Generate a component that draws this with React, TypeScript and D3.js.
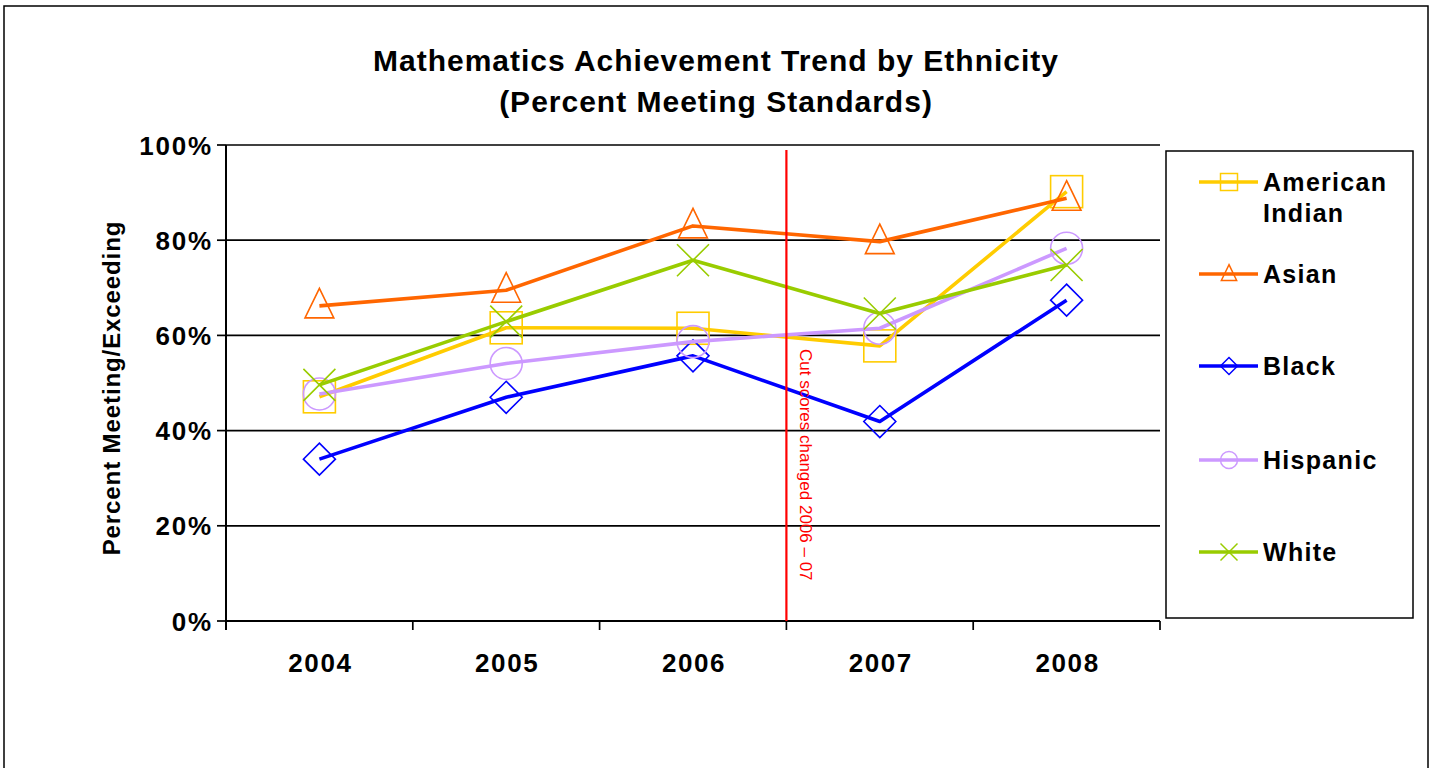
import React from "react";
import * as d3 from "d3";

const years = ["2004", "2005", "2006", "2007", "2008"];
const americanIndian = [47.1, 61.6, 61.5, 57.8, 90.2];
const asian = [66.2, 69.5, 83.0, 79.7, 88.8];
const black = [34.0, 47.0, 55.7, 41.9, 67.4];
const hispanic = [47.7, 54.1, 58.7, 61.5, 78.3];
const white = [49.6, 62.9, 75.8, 64.6, 74.8];
const yTicks = [0, 20, 40, 60, 80, 100];

const seriesNames = ["American Indian", "Asian", "Black", "Hispanic", "White"];
const seriesColors = ["#FFCC00", "#FF6600", "#0000FF", "#CC99FF", "#99CC00"];
const seriesMarkers = ["square", "triangle", "diamond", "circle", "x"];
const seriesValues = [americanIndian, asian, black, hispanic, white];

const FONT = "'Liberation Sans', Arial, sans-serif";

function Marker({ kind, cx, cy, s, color, sw }: { kind: string; cx: number; cy: number; s: number; color: string; sw: number }) {
  const h = s / 2;
  if (kind === "square")
    return <rect x={cx - h} y={cy - h} width={s} height={s} fill="none" stroke={color} strokeWidth={sw} />;
  if (kind === "triangle")
    return <path d={`M${cx},${cy - h * 1.1}L${cx + h * 0.9},${cy + h * 0.75}L${cx - h * 0.9},${cy + h * 0.75}Z`} fill="none" stroke={color} strokeWidth={sw} />;
  if (kind === "diamond")
    return <path d={`M${cx},${cy - h}L${cx + h},${cy}L${cx},${cy + h}L${cx - h},${cy}Z`} fill="none" stroke={color} strokeWidth={sw} />;
  if (kind === "circle")
    return <circle cx={cx} cy={cy} r={h} fill="none" stroke={color} strokeWidth={sw} />;
  return <path d={`M${cx - h},${cy - h}L${cx + h},${cy + h}M${cx + h},${cy - h}L${cx - h},${cy + h}`} fill="none" stroke={color} strokeWidth={sw} />;
}

export default function App() {
  const left = 226, right = 1160, top = 145, bottom = 621;
  const x = d3.scaleBand<string>().domain(years).range([left, right]);
  const y = d3.scaleLinear().domain([0, 100]).range([bottom, top]);
  const cx = (yr: string) => (x(yr) as number) + x.bandwidth() / 2;
  const line = d3.line<number>().x((_, i) => cx(years[i])).y((v) => y(v));
  const boundaries = years.map((yr) => x(yr) as number).concat([right]);
  const cutX = boundaries[3];

  const legendRows = [182, 274, 366, 460, 552];

  return (
    <svg width={1437} height={768} style={{ position: "absolute", left: 0, top: 0, background: "#fff" }} fontFamily={FONT}>
      <rect x={0} y={0} width={1437} height={768} fill="#fff" />
      {/* outer border */}
      <path d="M4,775V6H1428V775" fill="none" stroke="#000" strokeWidth={1.5} />
      {/* title */}
      <text x={716} y={71} textAnchor="middle" fontSize={30} fontWeight="bold" letterSpacing={1}>Mathematics Achievement Trend by Ethnicity</text>
      <text x={716} y={112} textAnchor="middle" fontSize={30} fontWeight="bold" letterSpacing={1}>(Percent Meeting Standards)</text>

      {/* gridlines */}
      {yTicks.map((t) => (
        <line key={t} x1={left} x2={right} y1={y(t)} y2={y(t)} stroke="#000" strokeWidth={1.7} />
      ))}
      {/* y axis */}
      <line x1={left} x2={left} y1={top} y2={bottom + 9} stroke="#000" strokeWidth={2} />
      {yTicks.map((t) => (
        <g key={"yt" + t}>
          <line x1={left - 9} x2={left} y1={y(t)} y2={y(t)} stroke="#000" strokeWidth={1.7} />
          <text x={213} y={y(t) + 9.5} textAnchor="end" fontSize={26} fontWeight="bold" letterSpacing={1.8}>{t}%</text>
        </g>
      ))}
      {/* x axis */}
      <line x1={left} x2={right} y1={bottom} y2={bottom} stroke="#000" strokeWidth={2} />
      {boundaries.map((b, i) => (
        <line key={"xt" + i} x1={b} x2={b} y1={bottom} y2={bottom + 9} stroke="#000" strokeWidth={1.7} />
      ))}
      {years.map((yr) => (
        <text key={yr} x={cx(yr) + 1} y={672} textAnchor="middle" fontSize={26} fontWeight="bold" letterSpacing={1.6}>{yr}</text>
      ))}
      <text transform={`translate(120,388) rotate(-90)`} textAnchor="middle" fontSize={24} fontWeight="bold" letterSpacing={0.9}>Percent Meeting/Exceeding</text>

      {/* series */}
      {seriesValues.map((vals, si) => (
        <g key={seriesNames[si]}>
          <path d={line(vals) as string} fill="none" stroke={seriesColors[si]} strokeWidth={3.6} strokeLinejoin="round" />
          {vals.map((v, i) => (
            <Marker key={i} kind={seriesMarkers[si]} cx={cx(years[i])} cy={y(v)} s={32} color={seriesColors[si]} sw={1.6} />
          ))}
        </g>
      ))}

      {/* cut score line */}
      <line x1={cutX} x2={cutX} y1={150} y2={bottom} stroke="#FF0000" strokeWidth={2.2} />
      <text transform={`translate(800,349) rotate(90)`} fontSize={17} fill="#FF0000">Cut scores changed 2006 – 07</text>

      {/* legend */}
      <rect x={1166} y={151} width={247} height={467} fill="#fff" stroke="#000" strokeWidth={1.5} />
      {seriesNames.map((name, si) => {
        const ly = legendRows[si];
        return (
          <g key={"lg" + name}>
            <line x1={1199} x2={1258} y1={ly} y2={ly} stroke={seriesColors[si]} strokeWidth={3.5} />
            <Marker kind={seriesMarkers[si]} cx={1229} cy={ly} s={17} color={seriesColors[si]} sw={1.5} />
            {name === "American Indian" ? (
              <text x={1263} y={ly + 9} fontSize={25} fontWeight="bold" letterSpacing={1.3}>
                <tspan x={1263}>American</tspan>
                <tspan x={1263} dy={31}>Indian</tspan>
              </text>
            ) : (
              <text x={1263} y={ly + 9} fontSize={25} fontWeight="bold" letterSpacing={1.3}>{name}</text>
            )}
          </g>
        );
      })}
    </svg>
  );
}
